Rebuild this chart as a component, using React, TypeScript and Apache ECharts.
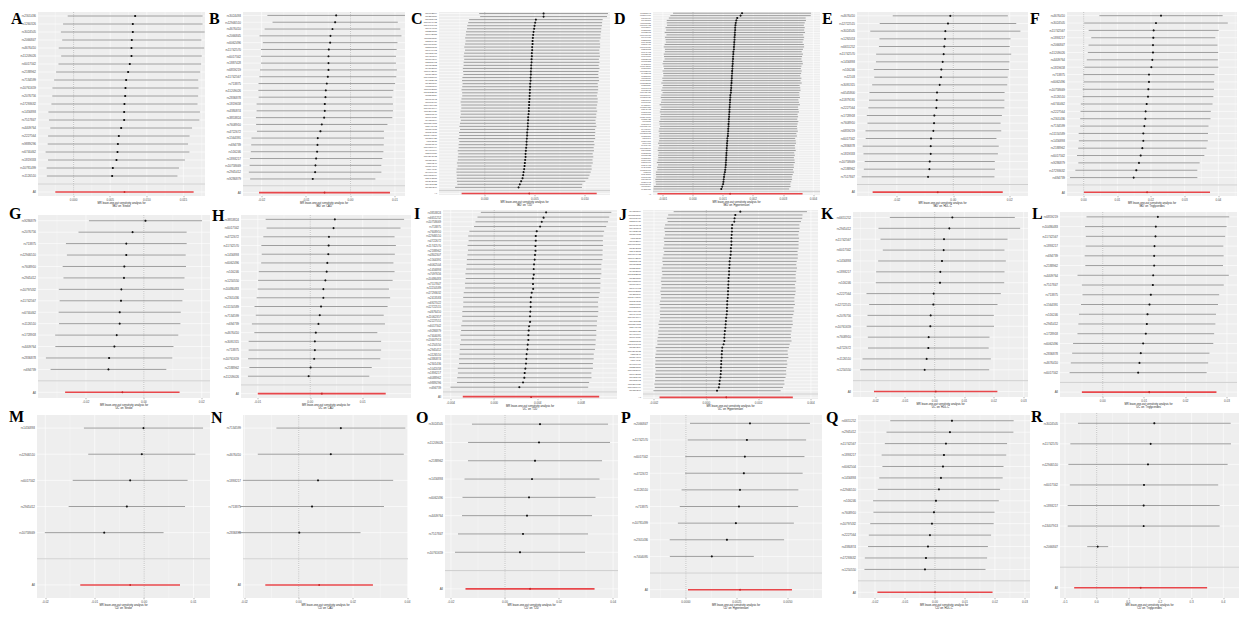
import React, { useEffect, useRef } from "react";
import * as echarts from "echarts";

// ===== A: 'IBD' on 'Stroke'
const aSnps = "rs2301436 rs1260326 rs3024505 rs2066847 rs4676410 rs11209026 rs6017342 rs2188962 rs7134599 rs10761659 rs2076756 rs17293632 rs1456893 rs7517847 rs4409764 rs2227564 rs9889296 rs6740462 rs1819333 rs10781499 rs1126510".split(" ");
const aB = [0.00841, 0.00809, 0.00809, 0.00795, 0.00791, 0.00791, 0.00768, 0.00745, 0.00718, 0.00709, 0.00705, 0.00695, 0.00691, 0.00691, 0.0065, 0.00618, 0.00605, 0.006, 0.00586, 0.00536, 0.00527];
const aSe = [0.0047, 0.00486, 0.00501, 0.00485, 0.00507, 0.0049, 0.00497, 0.00502, 0.00502, 0.00509, 0.00508, 0.00509, 0.00528, 0.00524, 0.00494, 0.00493, 0.00489, 0.00501, 0.00477, 0.00461, 0.00455];
const aAll = [0.00695, 0.00482];
const aRange = [-0.00486, 0.01795];
const aTicks = [0, 0.005, 0.01, 0.015];

// ===== B: 'IBD' on 'CAD'
const bSnps = "rs3024493 rs12946510 rs4676410 rs2066845 rs6062496 rs11742570 rs6017342 rs1887428 rs6859219 rs11742567 rs713875 rs11209026 rs2836878 rs1819658 rs4380874 rs3853824 rs7608910 rs4722672 rs1564391 rs694739 rs516246 rs1893217 rs10758669 rs2945412 rs9286879".split(" ");
const bB = [-0.00323, -0.00346, -0.00406, -0.00451, -0.00459, -0.00489, -0.00496, -0.00496, -0.00496, -0.00511, -0.00534, -0.00556, -0.00564, -0.00579, -0.00579, -0.00594, -0.00647, -0.00677, -0.00737, -0.00744, -0.00752, -0.00774, -0.00789, -0.00797, -0.0085];
const bSe = [0.0079, 0.00719, 0.00779, 0.00815, 0.00773, 0.00779, 0.00775, 0.00775, 0.00786, 0.00786, 0.00784, 0.00775, 0.00767, 0.00783, 0.00783, 0.00783, 0.00754, 0.00729, 0.00761, 0.00761, 0.00761, 0.0076, 0.00756, 0.00761, 0.00719];
const bAll = [-0.00586, 0.00752];
const bRange = [-0.0242, 0.01226];
const bTicks = [-0.02, -0.01, 0, 0.01];

// ===== C: 'IBD' on 'T2D'
const cSnps = "rs6062504 rs1250550 rs6088962 rs10797432 rs13407913 rs7404095 rs2227551 rs1042058 rs11150589 rs2301436 rs10761659 rs2836878 rs6740462 rs1728918 rs1456896 rs7134599 rs2188962 rs6651252 rs4802307 rs11742570 rs1893217 rs17085007 rs4722672 rs9286879 rs1126510 rs11062357 rs12722515 rs3853824 rs6017342 rs7608910 rs10486483 rs17391694 rs11209026 rs2066847 rs7097656 rs4380874 rs11584383 rs2945412 rs1819333 rs3024505 rs12946510 rs1887428 rs713875 rs7517847 rs10781499 rs4409764 rs2076756 rs17293632 rs6859219 rs516246 rs1564391 rs694739 rs4676410 rs10758669 rs2413583 rs1292053 rs6927022 rs9889296".split(" ");
const cB = [0.00587, 0.00587, 0.0051, 0.00503, 0.00497, 0.00493, 0.00487, 0.00483, 0.0048, 0.00477, 0.00477, 0.00473, 0.00473, 0.0047, 0.0047, 0.00467, 0.00467, 0.00463, 0.00463, 0.0046, 0.0046, 0.00457, 0.00457, 0.00453, 0.00453, 0.0045, 0.0045, 0.00447, 0.00447, 0.00443, 0.00443, 0.0044, 0.0044, 0.00437, 0.00433, 0.00433, 0.0043, 0.0043, 0.00427, 0.00423, 0.00423, 0.0042, 0.00417, 0.00417, 0.00413, 0.0041, 0.00407, 0.00407, 0.00403, 0.004, 0.00397, 0.00393, 0.00387, 0.00383, 0.00377, 0.00363, 0.0035, 0.00337];
const cSe = [0.00328, 0.00323, 0.0034, 0.00341, 0.00343, 0.00342, 0.00344, 0.00343, 0.00345, 0.00341, 0.00344, 0.00346, 0.00342, 0.00345, 0.00347, 0.00343, 0.00346, 0.00344, 0.00348, 0.00345, 0.00343, 0.00347, 0.00349, 0.00344, 0.00346, 0.00348, 0.00345, 0.00343, 0.00347, 0.00349, 0.00346, 0.00344, 0.00348, 0.00345, 0.00347, 0.00343, 0.00346, 0.00349, 0.00344, 0.00347, 0.00345, 0.00348, 0.00343, 0.00346, 0.00344, 0.00347, 0.00342, 0.00345, 0.00343, 0.00346, 0.00341, 0.00344, 0.00342, 0.00338, 0.00335, 0.00327, 0.00318, 0.00323];
const cAll = [0.00443, 0.00344];
const cRange = [-0.00457, 0.0125];
const cTicks = [0, 0.005, 0.01];

// ===== D: 'IBD' on 'Hypertension'
const dSnps = "rs11583043 rs12994997 rs2457996 rs1456893 rs11150589 rs10797432 rs6062504 rs1250550 rs6088962 rs13407913 rs7404095 rs2227551 rs1042058 rs2301436 rs10761659 rs2836878 rs6740462 rs1728918 rs7134599 rs2188962 rs6651252 rs4802307 rs11742570 rs1893217 rs17085007 rs4722672 rs9286879 rs1126510 rs11062357 rs12722515 rs3853824 rs6017342 rs7608910 rs10486483 rs17391694 rs11209026 rs2066847 rs7097656 rs4380874 rs11584383 rs2945412 rs1819333 rs3024505 rs12946510 rs1887428 rs713875 rs7517847 rs10781499 rs4409764 rs2076756 rs17293632 rs6859219 rs516246 rs1564391 rs694739 rs4676410 rs10758669 rs2413583 rs1292053 rs6927022 rs9889296 rs3194051 rs2310173 rs1847472 rs4246215 rs11879191 rs12103 rs6545800 rs3091315 rs2412973 rs9264942 rs10065637 rs7911264 rs4256159".split(" ");
const dB = [0.00163, 0.00158, 0.00147, 0.00144, 0.00142, 0.00141, 0.0014, 0.0014, 0.00139, 0.00139, 0.00138, 0.00138, 0.00137, 0.00137, 0.00136, 0.00136, 0.00134, 0.00134, 0.00133, 0.00133, 0.00132, 0.00132, 0.00131, 0.00131, 0.0013, 0.0013, 0.00129, 0.00129, 0.00128, 0.00128, 0.00127, 0.00127, 0.00126, 0.00126, 0.00124, 0.00124, 0.00123, 0.00123, 0.00122, 0.00122, 0.00121, 0.00121, 0.0012, 0.0012, 0.00119, 0.00119, 0.00118, 0.00118, 0.00117, 0.00117, 0.00116, 0.00116, 0.00114, 0.00114, 0.00113, 0.00113, 0.00112, 0.00112, 0.00111, 0.00111, 0.0011, 0.0011, 0.00109, 0.00109, 0.00108, 0.00107, 0.00106, 0.00104, 0.00103, 0.00102, 0.00101, 0.001, 0.00097, 0.00094];
const dSe = [0.00117, 0.00119, 0.00116, 0.00118, 0.00117, 0.00116, 0.00118, 0.00117, 0.00119, 0.00116, 0.00118, 0.00117, 0.00116, 0.00118, 0.00119, 0.00117, 0.00116, 0.00118, 0.00117, 0.00116, 0.00118, 0.00119, 0.00117, 0.00116, 0.00118, 0.00117, 0.00116, 0.00118, 0.00117, 0.00119, 0.00116, 0.00117, 0.00118, 0.00116, 0.00117, 0.00118, 0.00116, 0.00117, 0.00119, 0.00116, 0.00117, 0.00118, 0.00116, 0.00117, 0.00116, 0.00118, 0.00117, 0.00116, 0.00117, 0.00118, 0.00116, 0.00117, 0.00115, 0.00116, 0.00117, 0.00115, 0.00116, 0.00117, 0.00115, 0.00116, 0.00115, 0.00116, 0.00117, 0.00115, 0.00116, 0.00115, 0.00117, 0.00116, 0.00115, 0.00116, 0.00115, 0.00114, 0.00116, 0.00115];
const dAll = [0.00123, 0.00123];
const dRange = [-0.00133, 0.00422];
const dTicks = [-0.001, 0, 0.001, 0.002, 0.003, 0.004];

// ===== E: 'IBD' on 'HDL-C'
const eSnps = "rs4676410 rs12722515 rs3024505 rs1292053 rs6651252 rs11742570 rs1456893 rs516246 rs12103 rs3091315 rs6545800 rs11879191 rs2227564 rs1728918 rs7608910 rs6859219 rs6017342 rs2836878 rs1819333 rs10758669 rs2188962 rs7517847".split(" ");
const eB = [-0.00106, -0.00188, -0.00282, -0.00294, -0.00318, -0.00341, -0.00376, -0.00424, -0.00435, -0.00482, -0.00576, -0.00588, -0.006, -0.00671, -0.00682, -0.00706, -0.00788, -0.008, -0.008, -0.00835, -0.00847, -0.00894];
const eSe = [0.01041, 0.01234, 0.01357, 0.01185, 0.01182, 0.01221, 0.01206, 0.01221, 0.01206, 0.01221, 0.01221, 0.01224, 0.0123, 0.01221, 0.01203, 0.01227, 0.01182, 0.0123, 0.01215, 0.01176, 0.01185, 0.012];
const eAll = [-0.00553, 0.01176];
const eRange = [-0.03412, 0.02647];
const eTicks = [-0.02, 0, 0.02];

// ===== F: 'IBD' on 'Triglycerides'
const fSnps = "rs4676410 rs3024505 rs11742567 rs1893217 rs2066847 rs11209026 rs4409764 rs1819658 rs713875 rs6062496 rs10758669 rs1126510 rs6740462 rs2227564 rs2301436 rs7134599 rs11150589 rs1456893 rs2188962 rs6017342 rs9286879 rs17293632 rs694739".split(" ");
const fB = [0.02297, 0.02148, 0.02079, 0.02069, 0.02059, 0.02059, 0.02039, 0.0201, 0.0194, 0.0194, 0.01921, 0.01911, 0.01871, 0.01841, 0.01832, 0.01802, 0.01772, 0.01772, 0.01742, 0.01693, 0.01643, 0.01564, 0.01485];
const fSe = [0.00934, 0.01088, 0.00985, 0.0094, 0.00977, 0.00987, 0.00993, 0.01015, 0.00993, 0.00987, 0.00995, 0.0099, 0.00998, 0.00987, 0.00987, 0.00972, 0.0098, 0.00977, 0.00972, 0.00965, 0.00919, 0.00924, 0.00965];
const fAll = [0.01881, 0.00955];
const fRange = [-0.00495, 0.04554];
const fTicks = [0, 0.01, 0.02, 0.03, 0.04];

// ===== G: 'UC' on 'Stroke'
const gSnps = "rs9286879 rs2076756 rs713875 rs12946510 rs7608910 rs2945412 rs10797432 rs11742567 rs6740462 rs1126510 rs1728918 rs4409764 rs2836878 rs694739".split(" ");
const gB = [0.00057, -0.00389, -0.00606, -0.00606, -0.00674, -0.00686, -0.00777, -0.00789, -0.00834, -0.00834, -0.00937, -0.01017, -0.012, -0.01223];
const gSe = [0.00997, 0.00953, 0.01064, 0.01047, 0.01087, 0.01067, 0.01102, 0.01082, 0.01076, 0.0107, 0.01085, 0.01041, 0.01114, 0.0102];
const gAll = [-0.00743, 0.01009];
const gRange = [-0.03657, 0.02286];
const gTicks = [-0.02, 0, 0.02];

// ===== H: 'UC' on 'CAD'
const hSnps = "rs3853824 rs6017342 rs4722672 rs11742570 rs1456893 rs6062496 rs516246 rs1250550 rs10486483 rs2301436 rs11150589 rs7134599 rs694739 rs4676410 rs3091315 rs713875 rs10761659 rs2188962 rs11209026".split(" ");
const hB = [0.00469, 0.00444, 0.00356, 0.0035, 0.00344, 0.00325, 0.00313, 0.00288, 0.0025, 0.0025, 0.00206, 0.00181, 0.00156, 0.00106, 0.00088, 0.00088, 0.00075, 0.00006, -0.00031];
const hSe = [0.00673, 0.00651, 0.00638, 0.00654, 0.00647, 0.00643, 0.0066, 0.00654, 0.00638, 0.00649, 0.00647, 0.00622, 0.00647, 0.00598, 0.00644, 0.00644, 0.00643, 0.00595, 0.0059];
const hAll = [0.00219, 0.00622];
const hRange = [-0.0132, 0.0192];
const hTicks = [-0.01, 0, 0.01];

// ===== I: 'UC' on 'T2D'
const iSnps = "rs3853824 rs6651252 rs10758669 rs713875 rs7608910 rs12946510 rs4722672 rs11742570 rs2188962 rs4802307 rs1564391 rs6062504 rs1456893 rs7097656 rs10486483 rs7517847 rs11150589 rs17293632 rs2413583 rs6927022 rs12722515 rs4676410 rs11062357 rs2227551 rs6017342 rs9286879 rs7404095 rs13407913 rs1250550 rs2945412 rs1126510 rs4380874 rs2301436 rs1042058 rs1893217 rs6088962 rs9889296 rs694739".split(" ");
const iB = [0.00477, 0.00452, 0.00437, 0.00422, 0.00391, 0.00382, 0.00382, 0.00378, 0.00378, 0.00375, 0.00372, 0.00366, 0.00363, 0.0036, 0.00357, 0.00354, 0.00354, 0.00345, 0.00338, 0.00335, 0.00335, 0.00332, 0.00329, 0.00326, 0.0032, 0.00317, 0.00314, 0.00314, 0.00308, 0.00305, 0.00298, 0.00295, 0.00292, 0.00286, 0.0028, 0.00277, 0.00265, 0.00231];
const iSe = [0.00306, 0.00309, 0.00311, 0.0031, 0.00316, 0.00317, 0.00315, 0.00318, 0.00316, 0.00317, 0.00318, 0.00316, 0.00317, 0.00319, 0.00316, 0.00318, 0.00317, 0.00319, 0.00318, 0.00316, 0.00317, 0.00319, 0.00318, 0.00316, 0.00318, 0.00317, 0.00319, 0.00316, 0.00318, 0.00317, 0.00315, 0.00316, 0.00314, 0.00317, 0.00313, 0.00315, 0.0031, 0.00323];
const iAll = [0.00338, 0.0032];
const iRange = [-0.00471, 0.01129];
const iTicks = [-0.004, 0, 0.004, 0.008];

// ===== J: 'UC' on 'Hypertension'
const jSnps = "rs4380874 rs11150589 rs7608910 rs2301436 rs6017342 rs1456893 rs4722672 rs1819333 rs713875 rs6062504 rs10761659 rs1292053 rs2413583 rs10797432 rs11742570 rs2188962 rs6651252 rs3853824 rs4802307 rs12722515 rs1250550 rs17085007 rs7134599 rs6740462 rs11062357 rs9286879 rs12946510 rs3024505 rs2076756 rs1126510 rs10486483 rs7404095 rs17391694 rs6927022 rs11584383 rs2945412 rs1887428 rs4409764 rs7097656 rs2836878 rs13407913 rs6859219 rs17293632 rs516246 rs1564391 rs694739 rs4676410 rs2227551 rs10758669 rs1042058 rs1728918 rs6088962 rs11209026 rs10781499 rs9889296".split(" ");
const jB = [0.0013, 0.00111, 0.00108, 0.00107, 0.00099, 0.00098, 0.00098, 0.00097, 0.00096, 0.00096, 0.00096, 0.00094, 0.00094, 0.00093, 0.00091, 0.00089, 0.00089, 0.00088, 0.00087, 0.00087, 0.00085, 0.00085, 0.00084, 0.00084, 0.00083, 0.00083, 0.00082, 0.0008, 0.0008, 0.00079, 0.00079, 0.00078, 0.00076, 0.00075, 0.00074, 0.00073, 0.00071, 0.0007, 0.00069, 0.00069, 0.00066, 0.00061, 0.0006, 0.00059, 0.00059, 0.00057, 0.00057, 0.00056, 0.00056, 0.00055, 0.00054, 0.00051, 0.0005, 0.00048, 0.00041];
const jSe = [0.0013, 0.00131, 0.00132, 0.0013, 0.00131, 0.00132, 0.00131, 0.0013, 0.00132, 0.00131, 0.00131, 0.00132, 0.0013, 0.00131, 0.00132, 0.00131, 0.0013, 0.00132, 0.00131, 0.0013, 0.00131, 0.00132, 0.0013, 0.00131, 0.00132, 0.00131, 0.0013, 0.00131, 0.00132, 0.0013, 0.00131, 0.0013, 0.00129, 0.0013, 0.00131, 0.00129, 0.0013, 0.00129, 0.0013, 0.00131, 0.00129, 0.0013, 0.00128, 0.00129, 0.0013, 0.00128, 0.00129, 0.00128, 0.00127, 0.00128, 0.00127, 0.00126, 0.00127, 0.00125, 0.00124];
const jAll = [0.00076, 0.0013];
const jRange = [-0.00242, 0.00427];
const jTicks = [-0.002, 0, 0.002, 0.004];

// ===== K: 'UC' on 'HDL-C'
const kSnps = "rs6651252 rs2945412 rs11742567 rs6017342 rs1456893 rs1893217 rs516246 rs2227564 rs12722515 rs2076756 rs10761659 rs7608910 rs4722672 rs1126510 rs1250550".split(" ");
const kB = [0.00596, 0.00494, 0.00315, 0.00303, 0.00247, 0.00191, 0.0018, -0.00034, -0.00045, -0.00135, -0.00146, -0.00202, -0.00213, -0.0027, -0.00337];
const kSe = [0.01075, 0.01218, 0.01092, 0.01046, 0.01098, 0.01104, 0.01104, 0.01155, 0.01104, 0.01086, 0.01095, 0.01046, 0.01038, 0.01104, 0.01109];
const kAll = [0.00034, 0.01061];
const kRange = [-0.02753, 0.03146];
const kTicks = [-0.02, -0.01, 0, 0.01, 0.02, 0.03];

// ===== L: 'UC' on 'Triglycerides'
const lSnps = "rs6859219 rs10486483 rs11742567 rs1893217 rs694739 rs2188962 rs4409764 rs7517847 rs713875 rs1564391 rs516246 rs2945412 rs1728918 rs6062496 rs2836878 rs4676410 rs6017342".split(" ");
const lB = [0.01331, 0.01282, 0.01274, 0.0125, 0.01242, 0.01242, 0.01218, 0.0121, 0.01161, 0.01129, 0.01081, 0.01065, 0.0104, 0.00976, 0.00919, 0.00887, 0.00855];
const lSe = [0.00879, 0.00872, 0.00858, 0.00848, 0.00856, 0.00848, 0.00932, 0.00874, 0.00842, 0.00844, 0.00844, 0.00844, 0.00842, 0.00864, 0.00846, 0.00846, 0.00844];
const lAll = [0.01121, 0.00829];
const lRange = [-0.01032, 0.03242];
const lTicks = [0, 0.01, 0.02, 0.03];

// ===== M: 'CD' on 'Stroke'
const mSnps = "rs1456893 rs12946510 rs6017342 rs2945412 rs10758669".split(" ");
const mB = [-0.00013, -0.00047, -0.00283, -0.0035, -0.00808];
const mSe = [0.00615, 0.00553, 0.00593, 0.00601, 0.00613];
const mAll = [-0.00283, 0.00515];
const mRange = [-0.02168, 0.01333];
const mTicks = [-0.02, -0.01, 0, 0.01];

// ===== N: 'CD' on 'CAD'
const nSnps = "rs7134599 rs4676410 rs1893217 rs713875 rs2836878".split(" ");
const nB = [0.0155, 0.0118, 0.0071, 0.0049, 0.0002];
const nSe = [0.0121, 0.0137, 0.0141, 0.0135, 0.0115];
const nAll = [0.0075, 0.0101];
const nRange = [-0.0205, 0.0402];
const nTicks = [-0.02, 0, 0.02, 0.04];

// ===== O: 'CD' on 'T2D'
const oSnps = "rs3024505 rs11209026 rs2188962 rs1456893 rs6062496 rs4409764 rs7517847 rs10761659".split(" ");
const oB = [0.01295, 0.01258, 0.0111, 0.00999, 0.00888, 0.00814, 0.00666, 0.00555];
const oSe = [0.01284, 0.0134, 0.01265, 0.01274, 0.01255, 0.01227, 0.01227, 0.01227];
const oAll = [0.00925, 0.01218];
const oRange = [-0.0222, 0.0418];
const oTicks = [-0.02, 0, 0.02, 0.04];

// ===== P: 'CD' on 'Hypertension'
const pSnps = "rs2066847 rs11742570 rs6017342 rs4722672 rs1126510 rs713875 rs10781499 rs2301436 rs7404095".split(" ");
const pB = [0.00314, 0.00299, 0.00289, 0.00284, 0.00265, 0.0026, 0.00245, 0.00201, 0.00127];
const pSe = [0.0015, 0.00148, 0.00149, 0.00147, 0.00146, 0.00148, 0.00145, 0.00143, 0.00105];
const pAll = [0.00265, 0.0013];
const pRange = [-0.00176, 0.00667];
const pTicks = [0, 0.0025, 0.005];

// ===== Q: 'CD' on 'HDL-C'
const qSnps = "rs6651252 rs2945412 rs11742567 rs1893217 rs6062504 rs1456893 rs12946510 rs516246 rs7608910 rs10797432 rs2227564 rs4380874 rs17293632 rs1250550".split(" ");
const qB = [0.00567, 0.005, 0.00367, 0.003, 0.00267, 0.002, 0.00133, 0.00033, -0.00033, -0.001, -0.00167, -0.00233, -0.003, -0.00333];
const qSe = [0.0105, 0.0108, 0.0104, 0.0106, 0.0103, 0.0105, 0.0104, 0.0107, 0.0103, 0.0105, 0.0104, 0.0102, 0.0104, 0.0103];
const qAll = [0.0, 0.0098];
const qRange = [-0.02567, 0.0317];
const qTicks = [-0.02, -0.01, 0, 0.01, 0.02, 0.03];

// ===== R: 'CD' on 'Triglycerides'
const rSnps = "rs3024505 rs11742570 rs12946510 rs6017342 rs1893217 rs13407913 rs2066847".split(" ");
const rB = [0.1821, 0.1705, 0.1621, 0.1495, 0.1484, 0.1484, 0.0032];
const rSe = [0.123, 0.1294, 0.1283, 0.1195, 0.1224, 0.1224, 0.0169];
const rAll = [0.1389, 0.1071];
const rRange = [-0.1158, 0.4495];
const rTicks = [-0.1, 0, 0.1, 0.2, 0.3, 0.4];

type Panel = {
  letter: string; exp: string; out: string; snps: string[]; b: number[]; se: number[];
  all: number[]; range: number[]; ticks: number[]; digits: number;
};

const panels: Panel[] = [
  { letter: "A", exp: "IBD", out: "Stroke", snps: aSnps, b: aB, se: aSe, all: aAll, range: aRange, ticks: aTicks, digits: 3 },
  { letter: "B", exp: "IBD", out: "CAD", snps: bSnps, b: bB, se: bSe, all: bAll, range: bRange, ticks: bTicks, digits: 2 },
  { letter: "C", exp: "IBD", out: "T2D", snps: cSnps, b: cB, se: cSe, all: cAll, range: cRange, ticks: cTicks, digits: 3 },
  { letter: "D", exp: "IBD", out: "Hypertension", snps: dSnps, b: dB, se: dSe, all: dAll, range: dRange, ticks: dTicks, digits: 3 },
  { letter: "E", exp: "IBD", out: "HDL-C", snps: eSnps, b: eB, se: eSe, all: eAll, range: eRange, ticks: eTicks, digits: 2 },
  { letter: "F", exp: "IBD", out: "Triglycerides", snps: fSnps, b: fB, se: fSe, all: fAll, range: fRange, ticks: fTicks, digits: 2 },
  { letter: "G", exp: "UC", out: "Stroke", snps: gSnps, b: gB, se: gSe, all: gAll, range: gRange, ticks: gTicks, digits: 2 },
  { letter: "H", exp: "UC", out: "CAD", snps: hSnps, b: hB, se: hSe, all: hAll, range: hRange, ticks: hTicks, digits: 2 },
  { letter: "I", exp: "UC", out: "T2D", snps: iSnps, b: iB, se: iSe, all: iAll, range: iRange, ticks: iTicks, digits: 3 },
  { letter: "J", exp: "UC", out: "Hypertension", snps: jSnps, b: jB, se: jSe, all: jAll, range: jRange, ticks: jTicks, digits: 3 },
  { letter: "K", exp: "UC", out: "HDL-C", snps: kSnps, b: kB, se: kSe, all: kAll, range: kRange, ticks: kTicks, digits: 2 },
  { letter: "L", exp: "UC", out: "Triglycerides", snps: lSnps, b: lB, se: lSe, all: lAll, range: lRange, ticks: lTicks, digits: 2 },
  { letter: "M", exp: "CD", out: "Stroke", snps: mSnps, b: mB, se: mSe, all: mAll, range: mRange, ticks: mTicks, digits: 2 },
  { letter: "N", exp: "CD", out: "CAD", snps: nSnps, b: nB, se: nSe, all: nAll, range: nRange, ticks: nTicks, digits: 2 },
  { letter: "O", exp: "CD", out: "T2D", snps: oSnps, b: oB, se: oSe, all: oAll, range: oRange, ticks: oTicks, digits: 2 },
  { letter: "P", exp: "CD", out: "Hypertension", snps: pSnps, b: pB, se: pSe, all: pAll, range: pRange, ticks: pTicks, digits: 4 },
  { letter: "Q", exp: "CD", out: "HDL-C", snps: qSnps, b: qB, se: qSe, all: qAll, range: qRange, ticks: qTicks, digits: 2 },
  { letter: "R", exp: "CD", out: "Triglycerides", snps: rSnps, b: rB, se: rSe, all: rAll, range: rRange, ticks: rTicks, digits: 1 },
];

// layout: [left, top, width, height, yLabelFontSize, letterX, letterY]
const boxes: number[][] = [
  [38, 12, 167, 184, 3.0, 11, 10],
  [243, 12, 162, 184, 3.0, 209, 10],
  [439, 12, 171, 183, 2.5, 411, 10],
  [653, 12, 167, 183, 2.1, 614, 10],
  [857, 12, 171, 184, 3.0, 822, 10],
  [1067, 12, 170, 184, 3.0, 1030, 10],
  [38, 215, 172, 183, 3.0, 9, 205],
  [241, 215, 170, 183, 3.0, 212, 207],
  [443, 210, 174, 189, 2.8, 414, 205],
  [643, 210, 175, 189, 2.5, 619, 206],
  [853, 212, 175, 185, 3.0, 821, 205],
  [1060, 212, 177, 185, 3.0, 1032, 205],
  [37, 415, 173, 183, 3.0, 9, 408],
  [243, 415, 165, 183, 3.0, 211, 409],
  [445, 415, 173, 183, 3.0, 416, 409],
  [650, 415, 172, 183, 3.0, 621, 409],
  [858, 415, 172, 183, 3.0, 826, 409],
  [1060, 413, 179, 185, 3.0, 1031, 408],
];

const FONT = "Liberation Sans";

function renderItem(params: any, api: any) {
  const cs = params.coordSys;
  const kind = api.value(4);
  if (kind === 0 || kind === 1) {
    const x = api.coord([api.value(0), 0])[0];
    return { type: "line", silent: true, shape: { x1: x, y1: cs.y, x2: x, y2: cs.y + cs.height }, style: { stroke: "#ffffff", lineWidth: kind === 0 ? 0.6 : 0.3 } };
  }
  if (kind === 2 || kind === 4) {
    const y = api.coord([0, api.value(3)])[1];
    return {
      type: "line", silent: true,
      shape: { x1: cs.x, y1: y, x2: cs.x + cs.width, y2: y },
      style: kind === 2 ? { stroke: "#ffffff", lineWidth: 0.6 } : { stroke: "#c4c4c4", lineWidth: 0.8 },
    };
  }
  if (kind === 3) {
    const x = api.coord([0, 0])[0];
    return { type: "line", silent: true, shape: { x1: x, y1: cs.y, x2: x, y2: cs.y + cs.height }, style: { stroke: "#666666", lineWidth: 0.45, lineDash: [0.8, 1.1] } };
  }
  const idx = api.value(3);
  const p1 = api.coord([api.value(0), idx]);
  const p2 = api.coord([api.value(1), idx]);
  const pc = api.coord([api.value(2), idx]);
  const isAll = kind === 6;
  return {
    type: "group", silent: true,
    children: [
      { type: "line", shape: { x1: p1[0], y1: p1[1], x2: p2[0], y2: p2[1] }, style: { stroke: isAll ? "#e8474b" : "#878787", lineWidth: isAll ? 1.6 : 0.8 } },
      { type: "circle", shape: { cx: pc[0], cy: pc[1], r: isAll ? 0.9 : 1.05 }, style: { fill: isAll ? "#c62828" : "#111111" } },
    ],
  };
}

function buildOption() {
  const grid: any[] = [], xAxis: any[] = [], yAxis: any[] = [], series: any[] = [], graphic: any[] = [];
  panels.forEach((p, i) => {
    const [l, t, w, h, fs, lx, ly] = boxes[i];
    const n = p.b.length;
    const [mn, mx] = p.range;
    const majors = p.ticks.filter((v) => v >= mn && v <= mx);
    const step = p.ticks[1] - p.ticks[0];
    const minorSet: number[] = [];
    p.ticks.forEach((v) => {
      [v - step / 2, v + step / 2].forEach((m) => {
        if (m > mn && m < mx && !minorSet.some((q) => Math.abs(q - m) < step / 10)) minorSet.push(m);
      });
    });
    const cats = [...Array.from({ length: n }, (_, k) => p.snps[k] ?? ""), "", "All"];

    grid.push({ left: l, top: t, width: w, height: h, show: true, backgroundColor: "#eeeeee", borderWidth: 0 });
    xAxis.push({
      type: "value", gridIndex: i, min: mn, max: mx,
      axisLine: { show: false },
      axisTick: { show: true, customValues: majors, length: 1.3, lineStyle: { color: "#444444", width: 0.4 } },
      axisLabel: { customValues: majors, formatter: (v: number) => v.toFixed(p.digits), fontSize: 3.0, color: "#4d4d4d", margin: 1.8, fontFamily: FONT },
      splitLine: { show: false },
      name: `MR leave-one-out sensitivity analysis for\n'${p.exp}' on '${p.out}'`,
      nameLocation: "middle", nameGap: 5.5,
      nameTextStyle: { fontSize: 2.7, lineHeight: 3.3, color: "#222222", fontFamily: FONT, verticalAlign: "top" },
    });
    yAxis.push({
      type: "category", gridIndex: i, data: cats, inverse: true,
      axisLine: { show: false }, axisTick: { show: false }, splitLine: { show: false },
      axisLabel: { interval: 0, fontSize: fs, color: "#4d4d4d", margin: 2, fontFamily: FONT },
    });

    const data: number[][] = [];
    majors.forEach((v) => data.push([v, v, v, 0, 0]));
    minorSet.forEach((v) => data.push([v, v, v, 0, 1]));
    for (let k = 0; k < n + 2; k++) data.push([0, 0, 0, k, 2]);
    data.push([0, 0, 0, 0, 3]);
    p.b.forEach((b, k) => data.push([b - 1.96 * p.se[k], b + 1.96 * p.se[k], b, k, 5]));
    data.push([0, 0, 0, n, 4]);
    data.push([p.all[0] - 1.96 * p.all[1], p.all[0] + 1.96 * p.all[1], p.all[0], n + 1, 6]);

    series.push({
      type: "custom", xAxisIndex: i, yAxisIndex: i, renderItem, data,
      encode: { x: [0, 1, 2], y: 3 }, clip: false, silent: true,
    });

    graphic.push({
      type: "text", left: lx, top: ly, silent: true,
      style: { text: p.letter, fontSize: 16, lineHeight: 14, fontWeight: "bold", fontFamily: "Liberation Serif", fill: "#000000" },
    });
  });
  return { animation: false, backgroundColor: "#ffffff", grid, xAxis, yAxis, series, graphic, tooltip: { show: false } };
}

export default function App() {
  const ref = useRef<HTMLDivElement>(null);
  useEffect(() => {
    document.body.style.margin = "0";
    if (!ref.current) return;
    const chart = echarts.init(ref.current, null, { renderer: "svg" });
    chart.setOption(buildOption() as any);
    return () => chart.dispose();
  }, []);
  return <div ref={ref} style={{ width: 1249, height: 621, background: "#fff" }} />;
}
